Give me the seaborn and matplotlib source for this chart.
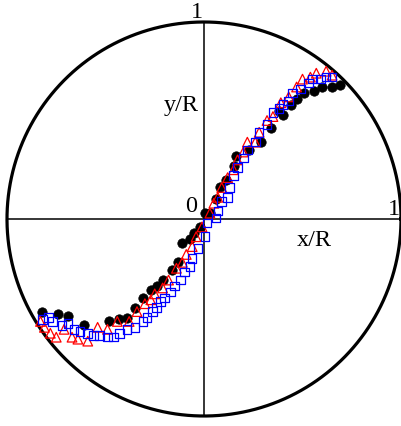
import matplotlib
matplotlib.use("Agg")
import matplotlib.pyplot as plt
import numpy as np
import pandas as pd
import seaborn as sns

# data (x/R, y/R)
black_x = [-0.82, -0.74, -0.69, -0.61, -0.48, -0.43, -0.39, -0.35, -0.31, -0.27, -0.24, -0.21,
           -0.16, -0.13, -0.11, -0.07, -0.05, -0.02, 0.005, 0.03, 0.06, 0.08, 0.11, 0.15, 0.16,
           0.23, 0.29, 0.34, 0.38, 0.40, 0.44, 0.47, 0.51, 0.56, 0.60, 0.65, 0.69]
black_y = [-0.47, -0.48, -0.49, -0.54, -0.52, -0.51, -0.50, -0.45, -0.40, -0.36, -0.34, -0.31,
           -0.26, -0.22, -0.12, -0.10, -0.07, -0.04, 0.03, 0.03, 0.10, 0.16, 0.20, 0.27, 0.32,
           0.35, 0.39, 0.46, 0.55, 0.53, 0.58, 0.61, 0.64, 0.65, 0.67, 0.67, 0.68]

red_x = [-0.83, -0.81, -0.78, -0.75, -0.71, -0.67, -0.64, -0.59, -0.54, -0.49, -0.44, -0.38,
         -0.34, -0.30, -0.27, -0.25, -0.21, -0.18, -0.14, -0.11, -0.09, -0.06, -0.04, -0.01,
         0.03, 0.05, 0.07, 0.09, 0.12, 0.15, 0.17, 0.20, 0.22, 0.26, 0.28, 0.32, 0.35, 0.39,
         0.43, 0.47, 0.50, 0.54, 0.57, 0.62, 0.65]
red_y = [-0.52, -0.55, -0.58, -0.60, -0.56, -0.60, -0.61, -0.62, -0.55, -0.56, -0.52, -0.52,
         -0.47, -0.43, -0.41, -0.38, -0.35, -0.31, -0.25, -0.22, -0.18, -0.14, -0.09, -0.04,
         0.03, 0.08, 0.11, 0.16, 0.21, 0.25, 0.30, 0.34, 0.39, 0.39, 0.44, 0.50, 0.52, 0.59,
         0.62, 0.67, 0.71, 0.72, 0.74, 0.75, 0.73]

blue_x = [-0.82, -0.79, -0.77, -0.72, -0.69, -0.66, -0.63, -0.59, -0.56, -0.53, -0.49, -0.46,
          -0.43, -0.39, -0.35, -0.31, -0.29, -0.26, -0.24, -0.22, -0.20, -0.17, -0.15, -0.12,
          -0.10, -0.07, -0.06, -0.03, 0.005, 0.015, 0.06, 0.07, 0.09, 0.12, 0.13, 0.15, 0.17,
          0.20, 0.22, 0.26, 0.28, 0.32, 0.35, 0.38, 0.40, 0.43, 0.45, 0.49, 0.53, 0.55, 0.59,
          0.62, 0.65]
blue_y = [-0.51, -0.50, -0.52, -0.54, -0.53, -0.56, -0.57, -0.58, -0.59, -0.59, -0.60, -0.60,
          -0.58, -0.56, -0.55, -0.52, -0.50, -0.47, -0.45, -0.42, -0.40, -0.37, -0.34, -0.31,
          -0.27, -0.24, -0.20, -0.15, -0.09, -0.02, 0.005, 0.04, 0.09, 0.11, 0.16, 0.22, 0.26,
          0.31, 0.35, 0.39, 0.44, 0.48, 0.54, 0.56, 0.58, 0.60, 0.64, 0.66, 0.69, 0.71, 0.71,
          0.72, 0.72]

plt.rcParams['font.family'] = ['Liberation Serif', 'DejaVu Serif']

fig = plt.figure(figsize=(4.02, 4.26), dpi=100)
ax = fig.add_axes([0, 0, 1, 1])

# unit circle and the two axes through the centre
t = np.linspace(0, 2 * np.pi, 400)
ax.plot(np.cos(t), np.sin(t), color='black', lw=2.3)
ax.plot([-1, 1], [0, 0], color='black', lw=1.1)
ax.plot([0, 0], [-1, 1], color='black', lw=1.1)

sns.scatterplot(x=black_x, y=black_y, ax=ax, marker='o', s=46, color='black',
                edgecolor='black', linewidth=0.5, zorder=3)
sns.scatterplot(x=red_x, y=red_y, ax=ax, marker='^', s=48, facecolor='none',
                edgecolor='red', linewidth=0.9, zorder=4)
sns.scatterplot(x=blue_x, y=blue_y, ax=ax, marker='s', s=38, facecolor='none',
                edgecolor='blue', linewidth=0.9, zorder=5)

fs = 17.5
ax.text(-0.036, 1.05, '1', fontsize=fs, ha='center', va='center')
ax.text(-0.063, 0.061, '0', fontsize=fs, ha='center', va='center')
ax.text(0.964, 0.046, '1', fontsize=fs, ha='center', va='center')
ax.text(-0.117, 0.574, 'y/R', fontsize=fs, ha='center', va='center')
ax.text(0.56, -0.107, 'x/R', fontsize=fs, ha='center', va='center')

ax.set_xlim(-204 / 197, 198 / 197)
ax.set_ylim(-207 / 197, 219 / 197)
ax.axis('off')

fig.savefig('out.png', dpi=100)
